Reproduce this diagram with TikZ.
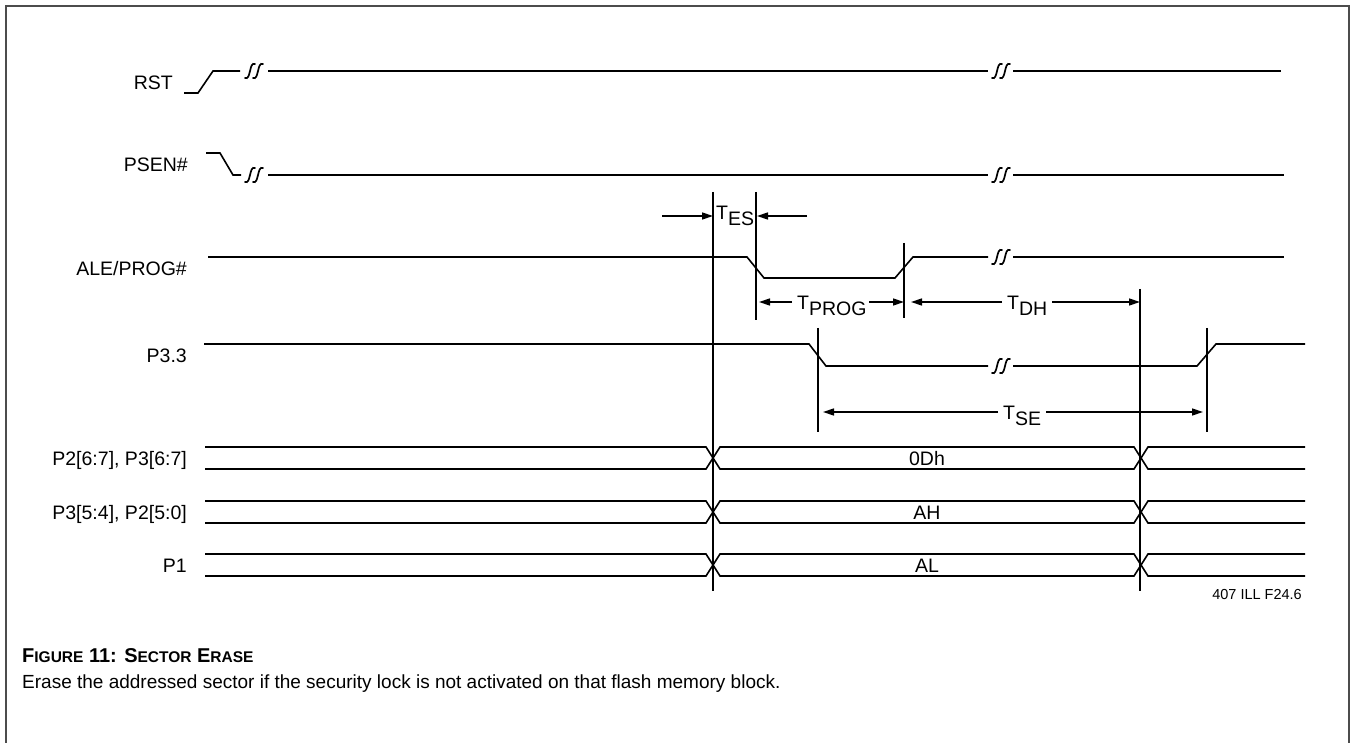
\documentclass[tikz,border=0pt]{standalone}
\usepackage{fontspec}
\setmainfont{Liberation Sans}
\usetikzlibrary{arrows.meta}

% time symbol with a lowered subscript
\newcommand{\tsub}[1]{T\raisebox{-6pt}{#1}}
% faked small capitals for the caption
\newcommand{\smc}[1]{{\fontsize{15.5}{18}\selectfont #1}}

\begin{document}
\begin{tikzpicture}[x=1pt,y=-1pt,
  sig/.style={line width=1.6pt, line join=miter},
  marker/.style={line width=1.5pt},
  dim/.style={line width=1.4pt, -{Triangle[length=11pt,width=7pt]}},
  lbl/.style={font=\fontsize{19.5}{23}\selectfont, inner sep=0pt},
  small/.style={font=\fontsize{14.5}{17}\selectfont, inner sep=0pt},
  frame/.style={line width=2pt, draw=black!70},
  brk/.pic={
    \draw[line width=1.7pt, line cap=round] (-9,7) .. controls (-3,10) and (-5,-10) .. (1,-7);
    \draw[line width=1.7pt, line cap=round] (-1,7) .. controls (5,10) and (3,-10) .. (9,-7);
  }
]
\useasboundingbox (0,0) rectangle (1352,743);

% outer frame, open at the bottom
\draw[frame] (6,743) -- (6,6) -- (1349,6) -- (1349,743);

% signal names
\node[lbl, anchor=base east] (nRST)  at (173,90)  {RST};
\node[lbl, anchor=base east] (nPSEN) at (188,172) {PSEN\#};
\node[lbl, anchor=base east] (nALE)  at (187,276) {ALE/PROG\#};
\node[lbl, anchor=base east] (nP33)  at (187,362) {P3.3};
\node[lbl, anchor=base east] (nB1)   at (187,465) {P2[6:7], P3[6:7]};
\node[lbl, anchor=base east] (nB2)   at (187,519) {P3[5:4], P2[5:0]};
\node[lbl, anchor=base east] (nB3)   at (187,572) {P1};

% RST
\draw[sig] (184,93) -- (198,93) -- (213,71) -- (240,71);
\pic at (254,71) {brk};
\draw[sig] (268,71) -- (988,71);
\pic at (1001,71) {brk};
\draw[sig] (1013,71) -- (1281,71);

% PSEN#
\draw[sig] (206,153) -- (220,153) -- (233,175) -- (241,175);
\pic at (254,175) {brk};
\draw[sig] (268,175) -- (988,175);
\pic at (1001,175) {brk};
\draw[sig] (1013,175) -- (1284,175);

% ALE/PROG#
\draw[sig] (208,257) -- (747,257) -- (764,278) -- (895,278) -- (913,257) -- (988,257);
\pic at (1001,257) {brk};
\draw[sig] (1013,257) -- (1284,257);

% P3.3
\draw[sig] (204,344) -- (809,344) -- (826,366) -- (988,366);
\pic at (1001,366) {brk};
\draw[sig] (1013,366) -- (1197,366) -- (1216,344) -- (1305,344);

% buses
\foreach \t/\b [evaluate=\t as \m using (\t+\b)/2] in {447/469, 501/523, 554/576} {
  \draw[sig] (205,\t) -- (706,\t) -- (713,\m) -- (706,\b) -- (205,\b);
  \draw[sig] (713,\m) -- (720,\t) -- (1134,\t) -- (1141,\m) -- (1134,\b) -- (720,\b) -- cycle;
  \draw[sig] (1305,\t) -- (1148,\t) -- (1141,\m) -- (1148,\b) -- (1305,\b);
}
\node[lbl, anchor=base] (vB1) at (927,465) {0Dh};
\node[lbl, anchor=base] (vB2) at (927,519) {AH};
\node[lbl, anchor=base] (vB3) at (927,572) {AL};

% timing markers
\coordinate (m1t) at (713,192);  \coordinate (m1b) at (713,591);
\coordinate (m2t) at (756,192);  \coordinate (m2b) at (756,320);
\coordinate (m3t) at (904,243);  \coordinate (m3b) at (904,318);
\coordinate (m4t) at (1140,289); \coordinate (m4b) at (1140,591);
\coordinate (m5t) at (818,328);  \coordinate (m5b) at (818,432);
\coordinate (m6t) at (1207,328); \coordinate (m6b) at (1207,432);
\foreach \k in {1,...,6} { \draw[marker] (m\k t) -- (m\k b); }

% T_ES
\node[lbl, anchor=base west] (tES) at (716,220) {\tsub{ES}};
\coordinate (esL) at (662,216);
\coordinate (esR) at (807,216);
\draw[dim] (esL) -- (esL -| m1t);
\draw[dim] (esR) -- ([xshift=1pt]esR -| m2t);

% T_PROG
\node[lbl, anchor=base west] (tPROG) at (797,309) {\tsub{PROG}};
\coordinate (pgA) at (792,302);
\coordinate (pgB) at (869,302);
\draw[dim] (pgA) -- ([xshift=3pt]pgA -| m2t);
\draw[dim] (pgB) -- (pgB -| m3t);

% T_DH
\node[lbl, anchor=base west] (tDH) at (1007,309) {\tsub{DH}};
\coordinate (dhA) at (1002,302);
\coordinate (dhB) at (1052,302);
\draw[dim] (dhA) -- ([xshift=7pt]dhA -| m3t);
\draw[dim] (dhB) -- (dhB -| m4t);

% T_SE
\node[lbl, anchor=base west] (tSE) at (1003,419) {\tsub{SE}};
\coordinate (seA) at (998,412);
\coordinate (seB) at (1046,412);
\draw[dim] (seA) -- ([xshift=5pt]seA -| m5t);
\draw[dim] (seB) -- ([xshift=-4pt]seB -| m6t);

% drawing number
\node[small, anchor=base east] (dwg) at (1302,599) {407 ILL F24.6};

% caption
\node[anchor=base west, inner sep=0pt, font=\bfseries\fontsize{20}{24}\selectfont] (capT) at (22,662)
  {F\smc{IGURE} 11: S\smc{ECTOR} E\smc{RASE}};
\node[anchor=base west, inner sep=0pt, font=\fontsize{19}{23}\selectfont] (capD) at (22,688)
  {Erase the addressed sector if the security lock is not activated on that flash memory block.};
\end{tikzpicture}
\end{document}
